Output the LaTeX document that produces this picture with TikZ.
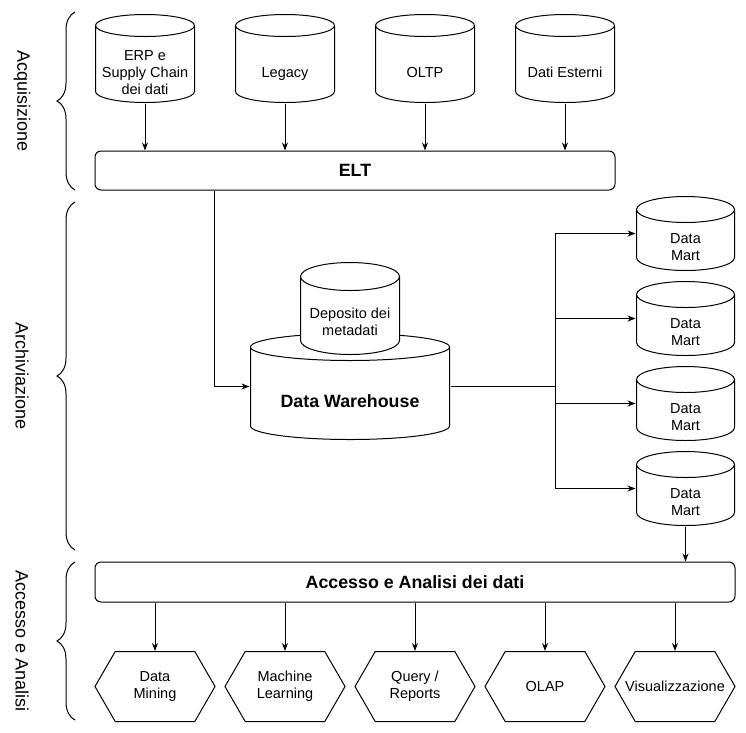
\documentclass[tikz,border=0pt]{standalone}
\usepackage{fontspec}
\setmainfont{Liberation Sans}
\usetikzlibrary{shapes.symbols,arrows.meta,decorations.pathreplacing,calc}

% testo abbassato sotto l'ellisse superiore del cilindro
\newcommand{\dblabel}[2][19pt]{\raisebox{-#1}[0pt][0pt]{\begin{tabular}{@{}c@{}}#2\end{tabular}}}

\tikzset{
  % cilindro: #1 = raggio x, #2 = raggio y dell'ellisse
  db/.style 2 args={fill=white, inner sep=0pt, font=\fontsize{14.5}{17}\selectfont,
    path picture={
      \draw[fill=white] ([xshift=0.5pt, yshift=-#2-0.5pt]path picture bounding box.north west)
        -- ([xshift=0.5pt, yshift=#2+0.5pt]path picture bounding box.south west)
        arc[start angle=180, end angle=360, x radius=#1-0.5pt, y radius=#2]
        -- ([xshift=-0.5pt, yshift=-#2-0.5pt]path picture bounding box.north east)
        arc[start angle=0, end angle=180, x radius=#1-0.5pt, y radius=#2]
        arc[start angle=180, end angle=360, x radius=#1-0.5pt, y radius=#2];
    }},
  bar/.style={draw, rounded corners=6pt, fill=white, inner sep=0pt,
    font=\bfseries\fontsize{17.8}{20}\selectfont},
  tool/.style={draw, signal, signal to=west and east, signal pointer angle=120,
    minimum width=120pt, minimum height=70pt, inner sep=0pt, align=center,
    font=\fontsize{14.5}{17}\selectfont},
  phase/.style={rotate=-90, font=\fontsize{18}{20}\selectfont},
  phasebrace/.style={decorate, decoration={brace, amplitude=18pt}},
}

\begin{document}
\begin{tikzpicture}[x=1pt, y=-1pt, line width=1pt, >={Stealth[length=8pt,width=6pt]}]
    \useasboundingbox (0,0) rectangle (746,732);

    % sorgenti
    \node[db={50pt}{11pt}, minimum width=100pt, minimum height=89pt] at (145,58.5) (erp) {\dblabel{ERP e\\Supply Chain\\dei dati}};
    \node[db={50pt}{11pt}, minimum width=100pt, minimum height=89pt] at (285,58.5) (legacy) {\dblabel{Legacy}};
    \node[db={50pt}{11pt}, minimum width=100pt, minimum height=89pt] at (425,58.5) (oltp) {\dblabel{OLTP}};
    \node[db={50pt}{11pt}, minimum width=100pt, minimum height=89pt] at (565,58.5) (esterni) {\dblabel{Dati Esterni}};
    \node[bar, minimum width=520pt, minimum height=39pt] at (355,170.5) (elt) {ELT};
    \foreach \src in {erp,legacy,oltp,esterni}
        \draw[->] (\src.south) -- (\src.south |- elt.north);

    % archiviazione
    \node[db={100pt}{13.5pt}, minimum width=200pt, minimum height=107pt, font=\bfseries\fontsize{17.8}{20}\selectfont] at (350,386.5) (dw) {\dblabel[21pt]{Data Warehouse}};
    \node[db={50pt}{14pt}, minimum width=100pt, minimum height=93pt] at (350,308.5) (meta) {\dblabel{Deposito dei\\metadati}};
    \draw[->] ($(elt.south west)+(120,0)$) |- (dw.west);

    \foreach \i/\y in {1/233.5,2/318.5,3/403.5,4/488.5}
        \node[db={49.5pt}{13pt}, minimum width=99pt, minimum height=75pt] at (685.5,\y) (dm\i) {\dblabel{Data\\Mart}};
    \coordinate (bus) at (555,386.5);
    \draw (dw.east) -- (bus);
    \foreach \i in {1,...,4}
        \draw[->] (bus) |- (dm\i.west);

    % accesso
    \node[bar, minimum width=640pt, minimum height=40pt] at (415,582) (acc) {Accesso e Analisi dei dati};
    \draw[->] (dm4.south) -- (dm4.south |- acc.north);
    \node[tool] at (155,686.5) (mining) {Data\\Mining};
    \node[tool] at (285,686.5) (ml) {Machine\\Learning};
    \node[tool] at (415,686.5) (query) {Query /\\Reports};
    \node[tool] at (545,686.5) (olap) {OLAP};
    \node[tool] at (675,686.5) (vis) {\makebox[0pt]{Visualizzazione}};
    \foreach \t in {mining,ml,query,olap,vis}
        \draw[->] (\t.north |- acc.south) -- (\t.north);

    % fasi
    \draw[phasebrace] (75,190) -- (75,12);
    \draw[phasebrace] (75,550) -- (75,202);
    \draw[phasebrace] (75,720) -- (75,562);
    \node[phase] at (22,101) (acq) {Acquisizione};
    \node[phase] at (22,376) (arch) {Archiviazione};
    \node[phase] at (22,641) (an) {Accesso e Analisi};
\end{tikzpicture}
\end{document}
